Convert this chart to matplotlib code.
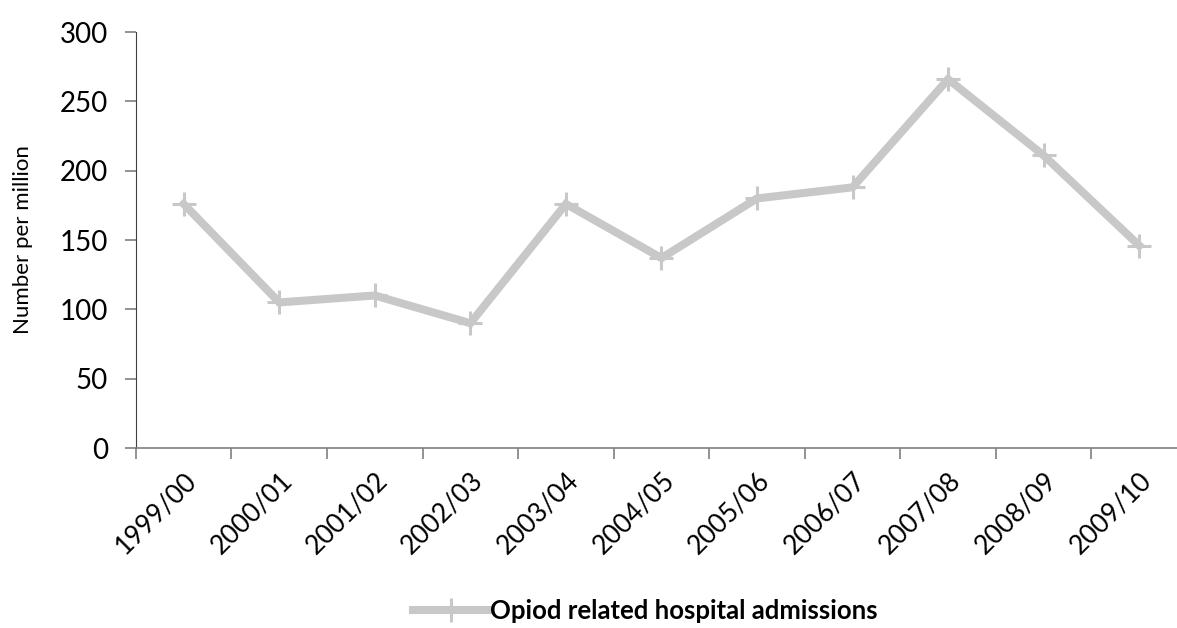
import matplotlib
matplotlib.use("Agg")
import matplotlib.pyplot as plt

years = ["1999/00", "2000/01", "2001/02", "2002/03", "2003/04", "2004/05",
         "2005/06", "2006/07", "2007/08", "2008/09", "2009/10"]
admissions = [176, 105, 110, 90, 176, 137, 180, 188, 266, 211, 146]

plt.rcParams['font.family'] = ['Lato', 'DejaVu Sans']

fig = plt.figure(figsize=(11.77, 6.28), dpi=100)
ax = fig.add_axes([0.1155, 0.2866, 0.893, 0.6624])

x = list(range(len(years)))
line, = ax.plot(x, admissions, color="#c8c8c8", linewidth=5.8,
                marker="+", markersize=17, markeredgewidth=2.2,
                solid_joinstyle="miter")

ax.set_xlim(-0.5, len(years) - 0.5)
ax.set_ylim(0, 300)
ax.set_yticks(range(0, 301, 50))
ax.set_yticklabels([str(v) for v in range(0, 301, 50)], fontsize=20)

# ticks sit between categories, labels under each category
ax.set_xticks([i - 0.5 for i in range(len(years) + 1)])
ax.set_xticklabels([])
ax.set_xticks(x, minor=True)
ax.set_xticklabels(years, minor=True, rotation=45, ha="right",
                   rotation_mode="anchor", fontsize=19)
ax.tick_params(axis="x", which="minor", length=0, pad=14)
ax.tick_params(axis="x", which="major", length=8, width=1.2, color="#808080",
               direction="out")
ax.tick_params(axis="y", length=8, width=1.2, color="#808080", pad=12)

for side in ["top", "right"]:
    ax.spines[side].set_visible(False)
ax.spines["left"].set_color("#404040")
ax.spines["bottom"].set_color("#808080")
ax.spines["bottom"].set_linewidth(1.2)

ax.set_ylabel("Number per million", fontsize=16, labelpad=19)

fig.legend([line], ["Opiod related hospital admissions"],
           loc="center", bbox_to_anchor=(0.548, 0.027), frameon=False,
           prop={"size": 18.5, "weight": "bold"}, handlelength=3,
           handletextpad=0.0)

fig.savefig("out.png", dpi=100)
